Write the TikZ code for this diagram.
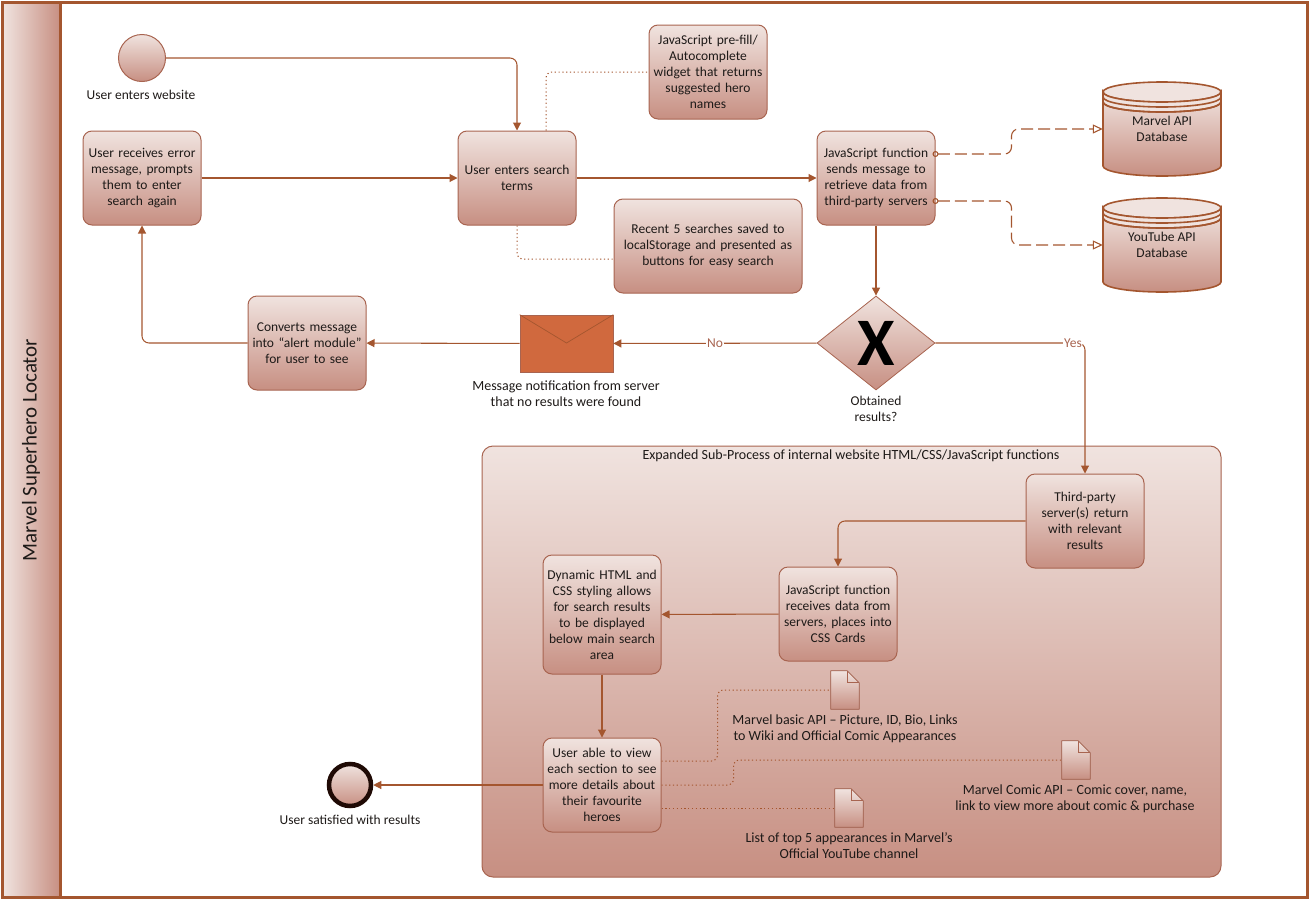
\documentclass[tikz,border=0pt]{standalone}
\usepackage{fontspec}
\setmainfont{Carlito}
\usepackage{tikz}
\usetikzlibrary{arrows.meta,shapes.geometric,positioning}
\definecolor{linebrown}{HTML}{A4562F}
\definecolor{edgebrown}{HTML}{A86450}
\definecolor{shadetop}{HTML}{F0E3DF}
\definecolor{shadebot}{HTML}{C78F82}
\definecolor{mailfill}{HTML}{D0693E}
\definecolor{inktext}{HTML}{1E1A18}
\definecolor{endring}{HTML}{1F0A05}
\newcommand{\lbl}{\fontsize{13.5pt}{16pt}\selectfont}
\newcommand{\lblwide}{\fontsize{14pt}{16pt}\selectfont}
\tikzset{
  shaded/.style={top color=shadetop, bottom color=shadebot, draw=edgebrown, line width=1pt},
  taskbox/.style={shaded, rectangle, rounded corners=9pt, minimum width=118pt, minimum height=94pt,
    align=center, inner sep=2pt, text width=112pt, font=\lbl, text=inktext},
  lbl/.style={align=center, font=\lbl, text=inktext, inner sep=0pt},
  widelbl/.style={lbl, font=\lblwide},
  flow/.style={-{Triangle[length=8pt,width=8pt]}, draw=linebrown, line width=1.05pt, rounded corners=7pt},
  dots/.style={draw=linebrown, line width=1pt, dash pattern=on 1.2pt off 2.6pt, rounded corners=6pt},
  assoc/.style={{Circle[open,length=6pt,width=6pt]}-{Triangle[open,length=10pt,width=9pt]},
    draw=linebrown, line width=1.1pt, dash pattern=on 12pt off 5pt, rounded corners=7pt},
  dbline/.style={draw=linebrown, line width=1.6pt},
}
\begin{document}
\begin{tikzpicture}[x=1pt,y=-1pt]
\useasboundingbox (0,0) rectangle (1310,900);
% pool and header
\shade[left color=shadetop, right color=shadebot] (3,3) rectangle (60,896);
\draw[draw=linebrown, line width=3pt] (2,2) rectangle (1307,897);
\draw[draw=linebrown, line width=3pt] (60,2) -- (60,897);
\node (pool) at (31,450) [rotate=90, text=inktext, font=\fontsize{21pt}{24pt}\selectfont] {Marvel Superhero Locator};
% sub process
\node (sub) at (851.5,661.5) [shaded, rectangle, rounded corners=11pt, minimum width=739pt, minimum height=431pt] {};
\node (subtitle) at (851,456) [widelbl] {Expanded Sub-Process of internal website HTML/CSS/JavaScript functions};
% upper row
\node (start) at (142,58) [shaded, circle, minimum size=47pt, inner sep=0pt] {};
\node (startlbl) at (141,95) [lbl] {User enters website};
\node (error) at (142,178) [taskbox] {User receives error\\message, prompts\\them to enter\\search again};
\node (search) at (517,178) [taskbox] {User enters search\\terms};
\node (prefill) at (708,72) [taskbox] {JavaScript pre-fill/\\Autocomplete\\widget that returns\\suggested hero\\names};
\node (recent) at (708,246) [taskbox, minimum width=188pt, text width=180pt] {Recent 5 searches saved to\\localStorage and presented as\\buttons for easy search};
\node (jssend) at (876,178) [taskbox] {JavaScript function\\sends message to\\retrieve data from\\third-party servers};
% databases
\foreach \dbname/\dby/\dbtxt in {marvel/129/Marvel API\\Database, youtube/245/YouTube API\\Database}{
  \begin{scope}[shift={(1162,\dby)}]
    \path[top color=shadetop, bottom color=shadebot]
      (-59,-37) -- (-59,37) arc[start angle=180, end angle=0, x radius=59, y radius=10] -- (59,-37) -- cycle;
    \draw[dbline, fill=shadetop] (-59,-37) arc[start angle=180, end angle=-180, x radius=59, y radius=10];
    \draw[dbline, fill=shadetop] (-59,-37) arc[start angle=180, end angle=0, x radius=59, y radius=10]
      -- (59,-27) arc[start angle=0, end angle=180, x radius=59, y radius=10] -- cycle;
    \draw[dbline] (-59,-37) -- (-59,37) arc[start angle=180, end angle=0, x radius=59, y radius=10] -- (59,-37);
    \draw[dbline] (-59,-32) arc[start angle=180, end angle=0, x radius=59, y radius=10];
    \draw[dbline] (-59,-27) arc[start angle=180, end angle=0, x radius=59, y radius=10];
    \node (\dbname) at (0,0) [lbl, minimum width=118pt, minimum height=94pt] {\dbtxt};
  \end{scope}
}
% middle row
\node (gate) at (876,343) [shaded, diamond, minimum width=118pt, minimum height=94pt, inner sep=0pt, aspect=1.25, line width=.8pt] {};
\node (gatex) at (gate) [font=\fontsize{68pt}{68pt}\bfseries\selectfont, text=black, inner sep=0pt] {X};
\node (gatelbl) at (876,409) [lbl] {Obtained\\results?};
\node (mail) at (566.5,343.5) [rectangle, fill=mailfill, draw=edgebrown, line width=.6pt, minimum width=93pt, minimum height=57pt, inner sep=0pt] {};
\draw[draw=linebrown, line width=.7pt] (mail.north west) -- (566.5,343) -- (mail.north east);
\node (maillbl) at (566,394) [widelbl] {Message notification from server\\that no results were found};
\node (convert) at (307,343) [taskbox] {Converts message\\into ``alert module''\\for user to see};
% inside the sub process
\node (third) at (1085,521) [taskbox] {Third-party\\server(s) return\\with relevant\\results};
\node (jsrecv) at (838,614) [taskbox] {JavaScript function\\receives data from\\servers, places into\\CSS Cards};
\node (dynamic) at (602,614.5) [taskbox, minimum height=119pt] {Dynamic HTML and\\CSS styling allows\\for search results\\to be displayed\\below main search\\area};
\node (view) at (602,785) [taskbox] {User able to view\\each section to see\\more details about\\their favourite\\heroes};
\node (finish) at (350,785) [shaded, draw=endring, circle, line width=4.5pt, minimum size=42pt, inner sep=0pt] {};
\node (finishlbl) at (350,820) [lbl] {User satisfied with results};
% documents
\foreach \docname/\docx/\docy in {docbasic/845/690, doccomic/1076/760, doctube/849/808}{
  \path (\docx,\docy) node (\docname) [minimum width=28pt, minimum height=38pt, inner sep=0pt] {};
  \filldraw[shaded, line width=.8pt, line join=round] (\docname.north west) -- ([xshift=-12pt]\docname.north east)
    -- ([yshift=-12pt]\docname.north east) -- (\docname.south east) -- (\docname.south west) -- cycle;
  \draw[draw=edgebrown, line width=.8pt] ([xshift=-12pt]\docname.north east) |- ([yshift=-12pt]\docname.north east);
}
\node (basiclbl) at (845,729) [widelbl] {Marvel basic API -- Picture, ID, Bio, Links\\to Wiki and Official Comic Appearances};
\node (comiclbl) at (1075,799) [widelbl] {Marvel Comic API -- Comic cover, name,\\link to view more about comic \& purchase};
\node (tubelbl) at (849,846) [widelbl] {List of top 5 appearances in Marvel's\\Official YouTube channel};
% flows
\draw[flow] (start) -| (search);
\draw[flow] (error) -- (search);
\draw[flow] (search) -- (jssend);
\draw[flow] (jssend) -- (gate);
\draw[flow] (gate) -- node [pos=.5, fill=white, inner sep=1pt, text=edgebrown, font=\lbl] {No} (mail);
\draw[flow] (mail) -- (convert);
\draw[flow] (convert) -| (error);
\draw[flow] (gate) -| node [pos=.46, fill=white, inner sep=1pt, text=edgebrown, font=\lbl] {Yes} (third);
\draw[flow] (third) -| (jsrecv);
\draw[flow] (jsrecv) -- (dynamic);
\draw[flow] (dynamic) -- (view);
\draw[flow] (view) -- (finish);
% associations
\draw[dots] ([xshift=29pt]search.north) |- (prefill);
\draw[dots] (search) |- ([yshift=-13pt]recent.west);
\draw[assoc] ([xshift=-3pt,yshift=24pt]jssend.east) -- ++(79,0) |- (marvel);
\draw[assoc] ([xshift=-3pt,yshift=-23pt]jssend.east) -- ++(79,0) |- (youtube);
\draw[dots] ([yshift=24pt]view.east) -- ++(56,0) |- (docbasic);
\draw[dots] (view.east) -- ++(72,0) |- (doccomic);
\draw[dots] ([yshift=-23pt]view.east) -- (doctube);
\end{tikzpicture}
\end{document}
